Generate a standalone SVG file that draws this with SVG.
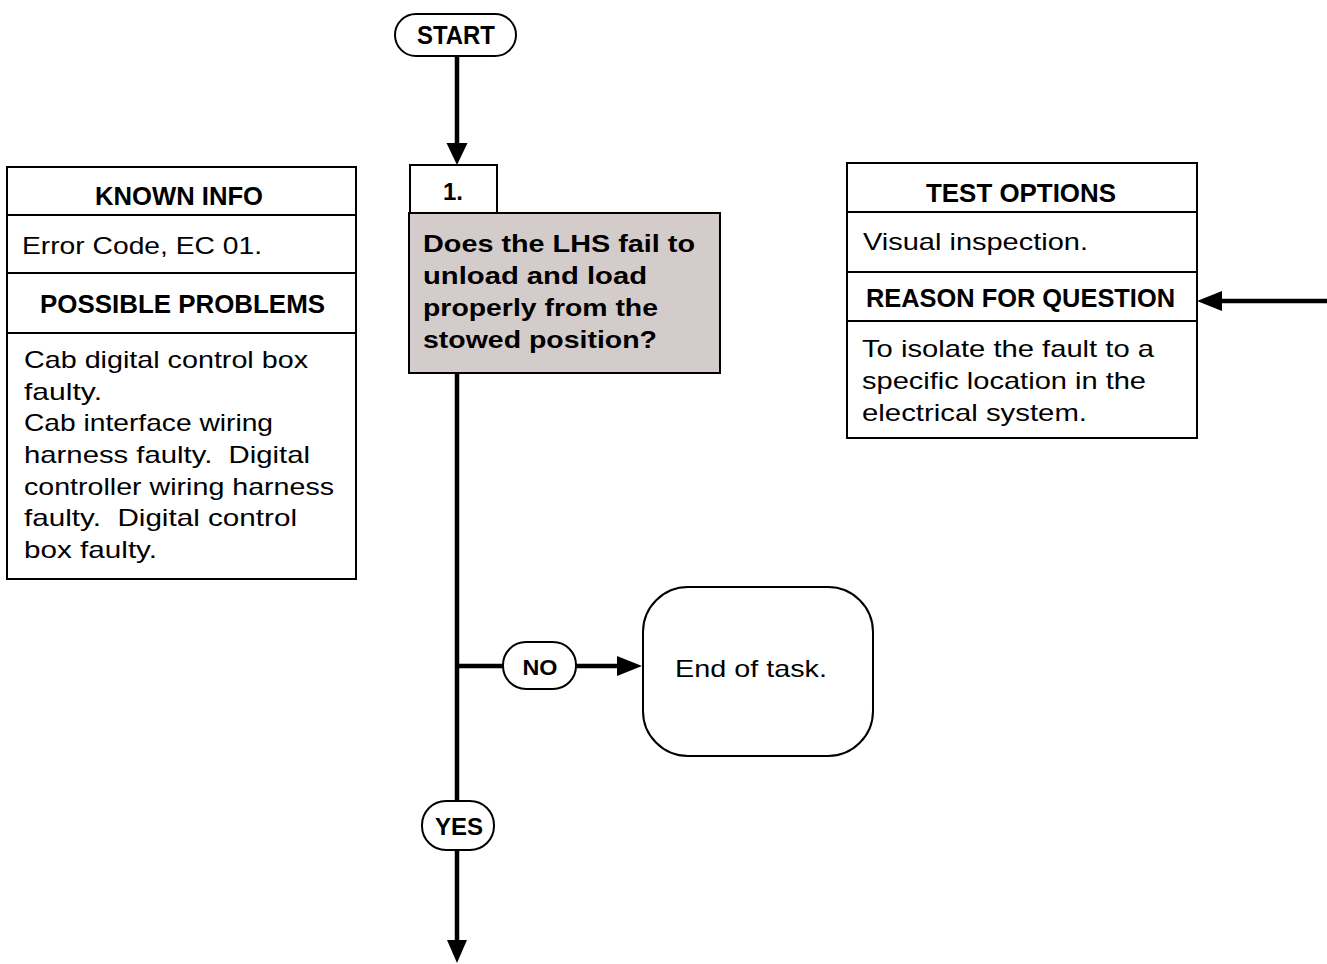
<svg xmlns="http://www.w3.org/2000/svg" width="1327" height="964" viewBox="0 0 1327 964">
<style>
.box{fill:#fff;stroke:#000;stroke-width:2}
.div{stroke:#000;stroke-width:2}
.pill{fill:#fff;stroke:#000;stroke-width:2}
.q{fill:#d3ccca;stroke:#000;stroke-width:2}
.h{font-family:"Liberation Sans",Arial,sans-serif;font-weight:bold;font-size:25px;fill:#000;text-anchor:middle}
.t{font-family:"Liberation Sans",Arial,sans-serif;font-size:24px;fill:#000}
.qt{font-family:"Liberation Sans",Arial,sans-serif;font-weight:bold;font-size:24px;fill:#000}
.lbl{font-family:"Liberation Sans",Arial,sans-serif;font-weight:bold;fill:#000;text-anchor:middle}
.ln{stroke:#000;stroke-width:4.5;fill:none}
.ah{fill:#000}
</style>
<g id="connectors">
<line class="ln" x1="457" y1="56" x2="457" y2="146"/>
<polygon class="ah" points="457,165 446.5,143 467.5,143"/>
<line class="ln" x1="457" y1="373" x2="457" y2="801"/>
<line class="ln" x1="457" y1="666" x2="503" y2="666"/>
<line class="ln" x1="576" y1="666" x2="620" y2="666"/>
<polygon class="ah" points="642,666 617,656 617,676"/>
<line class="ln" x1="457" y1="850" x2="457" y2="943"/>
<polygon class="ah" points="457,963 447,940 467,940"/>
<line class="ln" x1="1327" y1="301" x2="1219" y2="301"/>
<polygon class="ah" points="1197,301 1222,291 1222,311"/>
</g>
<g id="start">
<rect class="pill" x="395" y="14" width="121" height="42" rx="21" ry="21"/>
<text class="lbl" x="456" y="44" style="font-size:25px" textLength="78" lengthAdjust="spacingAndGlyphs">START</text>
</g>
<g id="known-info">
<rect class="box" x="7" y="167" width="349" height="412"/>
<line class="div" x1="7" y1="215" x2="356" y2="215"/>
<line class="div" x1="7" y1="273" x2="356" y2="273"/>
<line class="div" x1="7" y1="333" x2="356" y2="333"/>
<text class="h" x="179" y="205" textLength="168" lengthAdjust="spacingAndGlyphs">KNOWN INFO</text>
<text class="t" x="22" y="254" textLength="240" lengthAdjust="spacingAndGlyphs">Error Code, EC 01.</text>
<text class="h" x="182.5" y="313" textLength="285" lengthAdjust="spacingAndGlyphs">POSSIBLE PROBLEMS</text>
<text class="t" x="24" y="368" textLength="284" lengthAdjust="spacingAndGlyphs">Cab digital control box</text>
<text class="t" x="24" y="399.5" textLength="78" lengthAdjust="spacingAndGlyphs">faulty.</text>
<text class="t" x="24" y="431" textLength="249" lengthAdjust="spacingAndGlyphs">Cab interface wiring</text>
<text class="t" x="24" y="463" textLength="286" lengthAdjust="spacingAndGlyphs" xml:space="preserve">harness faulty.  Digital</text>
<text class="t" x="24" y="494.5" textLength="310" lengthAdjust="spacingAndGlyphs">controller wiring harness</text>
<text class="t" x="24" y="526" textLength="273" lengthAdjust="spacingAndGlyphs" xml:space="preserve">faulty.  Digital control</text>
<text class="t" x="24" y="558" textLength="133" lengthAdjust="spacingAndGlyphs">box faulty.</text>
</g>
<g id="step-1">
<rect class="box" x="410" y="165" width="87" height="48"/>
<text class="lbl" x="453" y="200" style="font-size:24px">1.</text>
</g>
<g id="question-1">
<rect class="q" x="409" y="213" width="311" height="160"/>
<text class="qt" x="423" y="252" textLength="272" lengthAdjust="spacingAndGlyphs">Does the LHS fail to</text>
<text class="qt" x="423" y="284" textLength="224" lengthAdjust="spacingAndGlyphs">unload and load</text>
<text class="qt" x="423" y="316" textLength="235" lengthAdjust="spacingAndGlyphs">properly from the</text>
<text class="qt" x="423" y="348" textLength="234" lengthAdjust="spacingAndGlyphs">stowed position?</text>
</g>
<g id="test-options">
<rect class="box" x="847" y="163" width="350" height="275"/>
<line class="div" x1="847" y1="212" x2="1197" y2="212"/>
<line class="div" x1="847" y1="272" x2="1197" y2="272"/>
<line class="div" x1="847" y1="321" x2="1197" y2="321"/>
<text class="h" x="1021" y="202" textLength="190" lengthAdjust="spacingAndGlyphs">TEST OPTIONS</text>
<text class="t" x="863" y="250" textLength="225" lengthAdjust="spacingAndGlyphs">Visual inspection.</text>
<text class="h" x="1020.5" y="307" textLength="309" lengthAdjust="spacingAndGlyphs">REASON FOR QUESTION</text>
<text class="t" x="862" y="357" textLength="292" lengthAdjust="spacingAndGlyphs">To isolate the fault to a</text>
<text class="t" x="862" y="389" textLength="284" lengthAdjust="spacingAndGlyphs">specific location in the</text>
<text class="t" x="862" y="421" textLength="225" lengthAdjust="spacingAndGlyphs">electrical system.</text>
</g>
<g id="no-label">
<rect class="pill" x="503" y="642" width="73" height="47" rx="23" ry="23"/>
<text class="lbl" x="540" y="675" style="font-size:22px" textLength="35" lengthAdjust="spacingAndGlyphs">NO</text>
</g>
<g id="end-of-task">
<rect class="box" x="643" y="587" width="230" height="169" rx="45" ry="45"/>
<text class="t" x="675" y="677" textLength="152" lengthAdjust="spacingAndGlyphs">End of task.</text>
</g>
<g id="yes-label">
<rect class="pill" x="422" y="801" width="72" height="49" rx="24" ry="24"/>
<text class="lbl" x="459" y="835" style="font-size:23px" textLength="48" lengthAdjust="spacingAndGlyphs">YES</text>
</g>
</svg>
